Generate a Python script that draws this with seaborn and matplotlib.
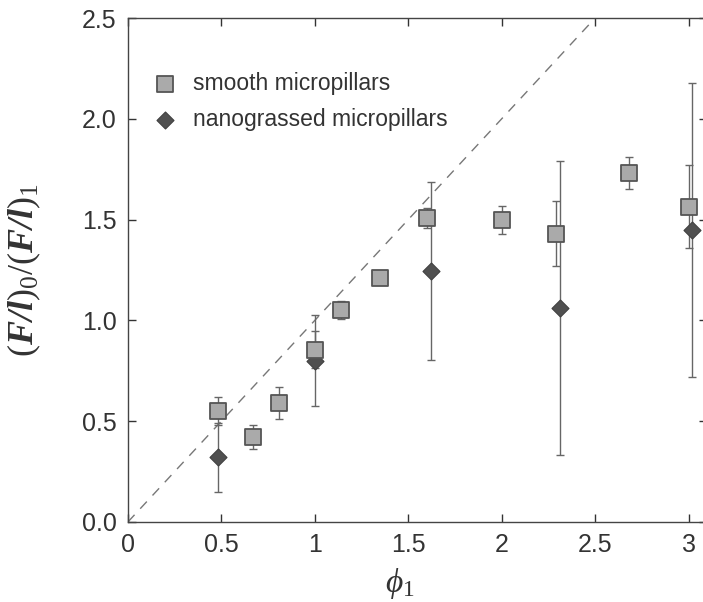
import matplotlib
matplotlib.use("Agg")
from matplotlib import pyplot as plt
import pandas as pd
import seaborn as sns

# smooth micropillars (squares)
smooth_x = [0.48, 0.67, 0.81, 1.0, 1.14, 1.35, 1.60, 2.0, 2.29, 2.68, 3.0]
smooth_y = [0.55, 0.42, 0.59, 0.855, 1.05, 1.21, 1.51, 1.50, 1.43, 1.73, 1.565]
smooth_err = [0.07, 0.06, 0.08, 0.09, 0.045, 0.025, 0.05, 0.07, 0.16, 0.08, 0.205]

# nanograssed micropillars (diamonds)
nano_x = [0.48, 1.0, 1.62, 2.31, 3.02]
nano_y = [0.32, 0.80, 1.245, 1.06, 1.45]
nano_err = [0.17, 0.225, 0.44, 0.73, 0.73]

xticks = [0, 0.5, 1, 1.5, 2, 2.5, 3]
xticklabels = ["0", "0.5", "1", "1.5", "2", "2.5", "3"]
yticks = [0.0, 0.5, 1.0, 1.5, 2.0, 2.5]
yticklabels = ["0.0", "0.5", "1.0", "1.5", "2.0", "2.5"]

smooth = pd.DataFrame({"phi": smooth_x, "ratio": smooth_y, "err": smooth_err})
nano = pd.DataFrame({"phi": nano_x, "ratio": nano_y, "err": nano_err})

sns.set_style("ticks")
plt.rcParams["font.family"] = ["Liberation Sans", "DejaVu Sans"]
plt.rcParams["mathtext.fontset"] = "custom"
plt.rcParams["mathtext.rm"] = "Liberation Serif"
plt.rcParams["mathtext.it"] = "Liberation Serif:italic"
plt.rcParams["mathtext.bf"] = "Liberation Serif:italic:bold"

fig = plt.figure(figsize=(7.03, 6.02), dpi=100)
ax = fig.add_axes([0.182, 0.133, 0.824, 0.837])

dark = "#333333"
ax.axline((0, 0), slope=1, color="#777777", lw=1.0, ls=(0, (7, 6)), zorder=1)

ax.errorbar(nano["phi"], nano["ratio"], yerr=nano["err"], fmt="none",
            ecolor="#666666", elinewidth=1.0, capsize=3, capthick=1.0, zorder=2)
ax.errorbar(smooth["phi"], smooth["ratio"], yerr=smooth["err"], fmt="none",
            ecolor="#666666", elinewidth=1.0, capsize=3, capthick=1.0, zorder=2)

sns.scatterplot(data=nano, x="phi", y="ratio", marker="D", s=75,
                color="#505050", edgecolor="#404040", linewidth=0.8,
                label="nanograssed micropillars", ax=ax, zorder=3)
sns.scatterplot(data=smooth, x="phi", y="ratio", marker="s", s=125,
                color="#aaaaaa", edgecolor="#555555", linewidth=1.3,
                label="smooth micropillars", ax=ax, zorder=4)

ax.set_xlim(0, 3.1)
ax.set_ylim(0, 2.5)
ax.set_xticks(xticks)
ax.set_xticklabels(xticklabels)
ax.set_yticks(yticks)
ax.set_yticklabels(yticklabels)
ax.tick_params(direction="in", length=6, width=1, top=True, right=True,
               labelsize=18, colors=dark, pad=8)
for sp in ax.spines.values():
    sp.set_color("#444444")
    sp.set_linewidth(1.0)
    sp.set_visible(True)

ax.set_xlabel(r"$\phi_{\mathit{1}}$", fontsize=24, color=dark)
ax.xaxis.set_label_coords(0.47, -0.088)
ax.set_ylabel(r"$(\mathbf{F/l})_0/(\mathbf{F/l})_1$", fontsize=26,
              color=dark, labelpad=28)

handles, labels = ax.get_legend_handles_labels()
leg = ax.legend(handles[::-1], labels[::-1], loc="upper left",
                bbox_to_anchor=(0.008, 0.912), frameon=False, fontsize=16.5,
                handletextpad=0.25, labelspacing=0.6, borderaxespad=0)
for t in leg.get_texts():
    t.set_color(dark)

fig.savefig("out.png", dpi=100)
